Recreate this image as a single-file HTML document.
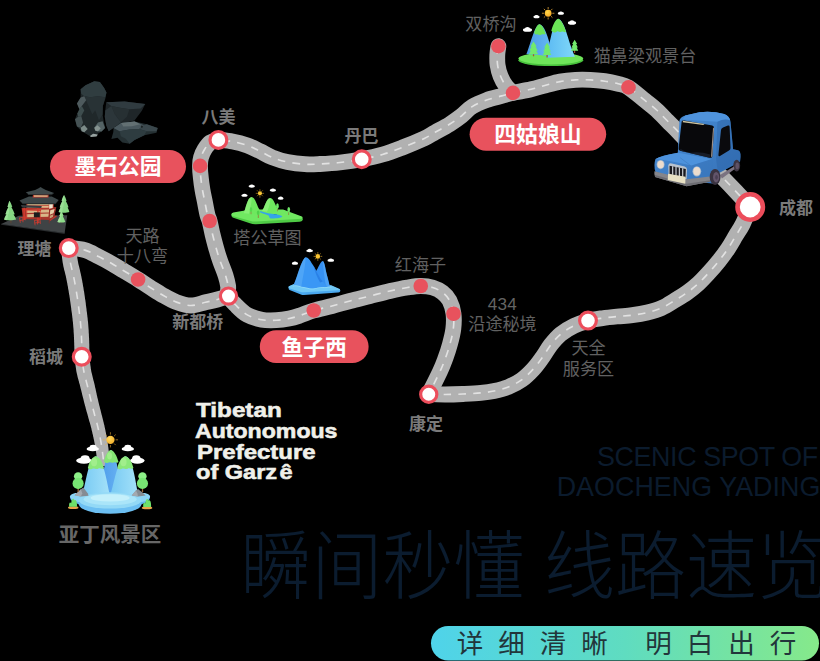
<!DOCTYPE html>
<html lang="zh"><head><meta charset="utf-8"><title>线路速览</title>
<style>
html,body{margin:0;padding:0;background:#000;}
body{width:820px;height:661px;overflow:hidden;position:relative;font-family:"Liberation Sans",sans-serif;}
#map{position:absolute;left:0;top:0;display:block;}
#map text{font-family:"Liberation Sans","Noto Sans CJK SC",sans-serif;}
.t{position:absolute;white-space:nowrap;font-family:"Liberation Sans",sans-serif;}
.en{left:196px;color:#f0f0ea;font-weight:bold;font-size:19.8px;line-height:22px;transform-origin:0 0;-webkit-text-stroke:0.55px #f0f0ea;}
.e1{top:398.6px;transform:scaleX(1.225);}
.e2{top:419.6px;transform:scaleX(1.168);left:195.4px;}
.e3{top:440.5px;transform:scaleX(1.212);left:196.6px;}
.e4{top:461px;transform:scaleX(1.19);}
.e4 i{font-style:normal;margin-left:2px;}
.sc{right:2.2px;top:442.8px;color:#0b1b2d;font-size:26.9px;line-height:29.8px;text-align:right;letter-spacing:-0.42px;}
.sc b{font-weight:normal;letter-spacing:0.02px;position:relative;left:2.6px;}
.n434{left:487.8px;top:295.1px;color:#646464;font-size:17.1px;letter-spacing:0.25px;}
</style></head><body>
<svg id="map" width="820" height="661" viewBox="0 0 820 661">
<defs><linearGradient id="barg" x1="0" x2="1" y1="0" y2="0"><stop offset="0" stop-color="#4fd3ea"/><stop offset="0.5" stop-color="#5fdcc0"/><stop offset="1" stop-color="#86e98a"/></linearGradient></defs>
<rect width="820" height="661" fill="#000"/>
<g id="bgtext">
<text transform="translate(240.40 592.80) scale(1 1.060)" x="0" y="0" font-size="71" font-weight="300" fill="#0b1c2f">瞬间秒懂 线路速览</text>
</g>
<path d="M61.1 248.8L61.2 249.4L61.3 250.2L61.4 251.2L61.5 252.3L61.6 253.5L61.7 254.8L61.9 256.2L62.0 257.6L62.2 259.0L62.4 260.5L62.6 261.9L62.8 263.3L63.1 264.6L63.3 266.0L63.6 267.3L63.9 268.6L64.2 269.9L64.6 271.2L64.9 272.4L65.2 273.7L65.5 274.9L65.8 276.1L66.0 277.3L66.3 278.5L66.5 279.8L66.8 281.1L67.0 282.3L67.3 283.6L67.5 284.9L67.8 286.2L68.0 287.5L68.2 288.9L68.5 290.2L68.7 291.5L68.9 292.9L69.1 294.2L69.4 295.6L69.6 296.9L69.8 298.3L70.0 299.8L70.2 301.2L70.4 302.6L70.6 304.0L70.8 305.5L71.0 306.9L71.2 308.3L71.3 309.6L71.5 311.0L71.7 312.3L71.9 313.6L72.0 314.8L72.2 316.1L72.3 317.3L72.5 318.5L72.6 319.7L72.7 320.9L72.9 322.1L73.0 323.3L73.1 324.4L73.2 325.7L73.3 326.9L73.4 328.1L73.5 329.2L73.6 330.4L73.6 331.6L73.7 332.8L73.8 334.0L73.9 335.2L73.9 336.5L74.0 337.7L74.0 339.0L74.1 340.3L74.1 341.7L74.2 343.1L74.2 344.7L74.3 346.3L74.3 348.0L74.4 349.6L74.4 351.2L74.4 352.7L74.4 354.0L74.5 355.3L74.5 356.3L74.5 357.2L89.5 356.8L89.5 356.0L89.5 355.0L89.4 353.8L89.4 352.4L89.4 350.9L89.4 349.3L89.3 347.6L89.3 346.0L89.3 344.3L89.2 342.7L89.2 341.1L89.1 339.7L89.1 338.4L89.0 337.0L88.9 335.7L88.9 334.5L88.8 333.2L88.7 331.9L88.7 330.7L88.6 329.4L88.5 328.2L88.4 326.9L88.3 325.6L88.2 324.3L88.1 323.1L88.0 321.8L87.8 320.5L87.7 319.3L87.6 318.0L87.4 316.8L87.3 315.5L87.1 314.2L87.0 313.0L86.8 311.7L86.6 310.4L86.5 309.0L86.3 307.7L86.1 306.3L85.9 304.9L85.8 303.4L85.6 302.0L85.4 300.5L85.1 299.0L84.9 297.6L84.7 296.1L84.5 294.7L84.3 293.2L84.1 291.8L83.8 290.4L83.6 289.0L83.4 287.6L83.1 286.3L82.9 284.9L82.7 283.5L82.4 282.2L82.2 280.8L81.9 279.5L81.6 278.1L81.4 276.8L81.1 275.5L80.8 274.1L80.5 272.7L80.2 271.4L79.9 270.1L79.6 268.8L79.3 267.6L79.0 266.3L78.7 265.2L78.4 264.0L78.2 262.9L78.0 261.8L77.8 260.7L77.6 259.6L77.4 258.4L77.3 257.2L77.1 255.9L77.0 254.6L76.8 253.3L76.7 252.1L76.6 250.9L76.5 249.8L76.4 248.8L76.3 247.9L76.3 247.2Z" fill="#b1b1b1"/>
<path d="M74.6 357.9L74.6 358.5L74.7 359.3L74.9 360.3L75.0 361.4L75.1 362.6L75.3 363.9L75.5 365.3L75.7 366.7L75.9 368.1L76.1 369.6L76.3 371.0L76.6 372.4L76.9 373.7L77.2 375.1L77.5 376.4L77.8 377.7L78.2 379.0L78.5 380.3L78.9 381.6L79.2 382.9L79.6 384.1L79.9 385.3L80.2 386.5L80.5 387.7L80.8 388.9L81.1 390.0L81.4 391.2L81.7 392.4L82.0 393.5L82.2 394.7L82.5 395.8L82.8 397.0L83.1 398.1L83.4 399.3L83.7 400.5L84.0 401.7L84.3 402.9L84.6 404.1L84.9 405.3L85.3 406.5L85.6 407.7L85.9 408.9L86.2 410.0L86.5 411.2L86.9 412.4L87.2 413.5L87.5 414.6L87.8 415.7L88.1 416.8L88.4 417.9L88.7 418.9L89.0 419.9L89.2 420.9L89.5 421.8L89.8 422.7L90.1 423.7L90.3 424.6L90.6 425.6L90.8 426.5L91.1 427.6L91.4 428.6L91.6 429.7L91.9 430.9L92.2 432.0L92.4 433.2L92.7 434.3L93.0 435.5L93.2 436.7L93.5 437.8L93.7 439.0L94.0 440.1L94.2 441.2L94.4 442.3L94.6 443.3L94.8 444.4L95.0 445.4L95.2 446.5L95.3 447.5L95.5 448.6L95.7 449.6L95.8 450.7L96.0 451.7L96.1 452.8L96.3 453.8L96.4 454.9L96.6 456.0L96.7 457.3L96.9 458.5L97.0 459.7L97.2 461.0L97.3 462.1L97.4 463.3L97.6 464.3L97.7 465.2L97.8 466.0L97.8 466.6L110.2 465.4L110.1 464.7L110.1 464.0L110.0 463.0L109.9 462.0L109.8 460.9L109.7 459.7L109.6 458.4L109.4 457.1L109.3 455.9L109.2 454.6L109.0 453.4L108.9 452.2L108.8 451.1L108.6 450.0L108.5 448.9L108.4 447.8L108.2 446.7L108.1 445.6L107.9 444.5L107.8 443.4L107.6 442.3L107.4 441.1L107.2 440.0L107.0 438.8L106.8 437.6L106.6 436.4L106.4 435.2L106.1 434.0L105.9 432.8L105.6 431.5L105.4 430.3L105.1 429.1L104.9 427.9L104.6 426.7L104.4 425.6L104.1 424.4L103.8 423.3L103.6 422.2L103.3 421.2L103.1 420.2L102.8 419.2L102.6 418.2L102.3 417.2L102.1 416.3L101.8 415.3L101.5 414.3L101.3 413.3L101.0 412.3L100.8 411.2L100.5 410.0L100.2 408.9L99.9 407.7L99.6 406.6L99.3 405.4L99.0 404.2L98.7 403.0L98.4 401.8L98.2 400.7L97.9 399.5L97.6 398.3L97.3 397.2L97.1 396.0L96.8 394.9L96.6 393.8L96.3 392.6L96.1 391.5L95.8 390.3L95.6 389.1L95.3 387.9L95.0 386.8L94.8 385.5L94.5 384.3L94.2 383.0L93.9 381.7L93.5 380.5L93.2 379.2L92.9 377.9L92.6 376.7L92.3 375.4L92.0 374.2L91.7 373.0L91.4 371.9L91.2 370.7L91.0 369.6L90.8 368.5L90.7 367.3L90.5 366.1L90.3 364.8L90.2 363.5L90.0 362.2L89.9 361.0L89.8 359.8L89.7 358.7L89.6 357.7L89.5 356.8L89.4 356.1Z" fill="#b1b1b1"/>
<path d="M68.7 248.0C69.0 250.3 69.5 257.2 70.3 262.0C71.1 266.8 72.7 271.8 73.7 277.0C74.8 282.2 75.7 287.5 76.6 293.0C77.5 298.5 78.3 304.7 79.0 310.0C79.7 315.3 80.3 320.0 80.7 325.0C81.1 330.0 81.4 334.7 81.6 340.0C81.8 345.3 81.6 351.8 82.0 357.0C82.4 362.2 82.9 366.2 83.8 371.0C84.7 375.8 86.3 381.2 87.5 386.0C88.7 390.8 89.6 395.3 90.8 400.0C92.0 404.7 93.3 409.7 94.4 414.0C95.5 418.3 96.6 421.7 97.6 426.0C98.6 430.3 99.8 435.5 100.6 440.0C101.4 444.5 102.0 448.7 102.6 453.0C103.2 457.3 103.8 463.8 104.0 466.0" fill="none" stroke="#e2e2e2" stroke-width="1.55" stroke-dasharray="7.6 7.2"/>
<g id="roads" fill="none" stroke-linecap="round" stroke-linejoin="round">
<path d="M68.7 248.0C71.4 248.3 79.9 248.7 84.9 250.1C89.9 251.5 94.1 254.3 98.5 256.5C102.9 258.7 107.0 260.9 111.3 263.3C115.6 265.7 119.6 268.3 124.1 271.0C128.6 273.7 133.8 276.8 138.1 279.5C142.4 282.2 145.7 284.6 149.8 287.2C154.0 289.8 158.6 292.8 163.0 295.3C167.4 297.8 171.8 300.4 176.5 302.1C181.2 303.8 186.2 305.5 191.0 305.5C195.8 305.5 201.1 303.3 205.5 302.3C209.9 301.3 213.6 300.5 217.4 299.5C221.2 298.5 226.7 296.7 228.5 296.1" stroke="#b1b1b1" stroke-width="15.8"/>
<path d="M218.4 139.9C217.1 140.3 212.8 140.7 210.5 142.3C208.2 143.9 206.1 147.0 204.5 149.5C202.9 152.0 201.8 154.8 201.0 157.5C200.2 160.2 200.0 162.7 200.0 166.0C200.0 169.3 200.3 173.5 200.8 177.5C201.2 181.5 201.8 185.8 202.5 190.0C203.2 194.2 204.2 198.3 205.0 202.5C205.8 206.7 206.7 211.9 207.5 215.0C208.3 218.1 208.7 217.7 209.6 221.0C210.5 224.3 211.5 230.2 212.7 235.0C213.9 239.8 215.4 245.7 216.7 250.0C217.9 254.3 218.7 256.8 220.2 261.1C221.7 265.4 224.3 271.5 225.6 275.6C226.9 279.8 227.6 282.6 228.1 286.0C228.6 289.4 227.2 292.9 228.5 296.1C229.8 299.4 233.1 302.4 236.2 305.5C239.3 308.6 243.0 312.5 247.3 314.9C251.6 317.3 257.0 318.8 261.8 319.7C266.6 320.6 271.7 320.4 276.3 320.2C280.9 320.0 285.2 319.3 289.2 318.5C293.1 317.7 295.9 316.8 300.0 315.5C304.1 314.2 308.4 312.1 313.8 310.5C319.1 308.9 326.0 307.6 332.0 306.0C338.0 304.4 343.7 302.7 350.0 301.0C356.3 299.3 363.3 297.7 370.0 296.0C376.7 294.3 383.8 292.4 390.0 291.0C396.2 289.6 402.4 288.3 407.5 287.5C412.6 286.7 416.6 286.0 420.8 286.0C424.9 286.0 428.9 286.4 432.5 287.5C436.1 288.6 439.7 290.3 442.5 292.5C445.3 294.7 447.7 297.0 449.5 300.5C451.3 304.0 452.9 309.0 453.5 313.8C454.1 318.5 453.9 324.0 453.3 329.0C452.7 334.0 451.3 339.2 450.0 344.0C448.7 348.8 447.2 353.4 445.5 358.0C443.8 362.6 442.8 365.5 440.0 371.5C437.2 377.5 430.6 390.5 428.8 394.2" stroke="#b1b1b1" stroke-width="15.8"/>
<path d="M428.8 394.2C431.5 394.3 439.3 394.5 445.0 394.5C450.7 394.5 457.0 394.3 463.0 394.0C469.0 393.7 475.6 393.4 480.8 392.9C486.0 392.4 489.5 392.0 494.1 391.0C498.7 390.0 503.7 388.9 508.3 387.0C512.9 385.1 517.4 382.9 521.6 379.9C525.8 376.9 529.8 372.9 533.3 369.1C536.8 365.4 539.5 361.4 542.4 357.4C545.3 353.4 547.7 348.8 550.7 344.9C553.8 341.0 556.8 337.3 560.7 334.1C564.6 330.9 569.4 328.0 574.0 325.8C578.6 323.6 583.5 322.1 588.2 320.8C592.9 319.5 597.6 318.9 602.4 318.2C607.2 317.5 612.0 317.0 617.0 316.5C622.0 316.0 627.2 315.9 632.3 315.2C637.3 314.5 642.4 313.7 647.3 312.5C652.2 311.3 656.9 310.1 661.6 308.0C666.3 305.9 671.1 302.6 675.4 300.0C679.7 297.4 683.8 294.9 687.6 292.2C691.4 289.5 694.7 286.9 698.3 283.6C701.9 280.3 705.6 276.2 709.1 272.4C712.6 268.6 715.9 264.7 719.1 260.7C722.3 256.7 725.4 252.5 728.2 248.3C731.0 244.2 733.3 239.8 735.7 235.8C738.1 231.8 740.3 228.9 742.7 224.1C745.1 219.3 748.8 209.7 750.0 206.8" stroke="#b1b1b1" stroke-width="15.8"/>
<path d="M750.3 207.0C747.8 204.2 739.6 195.4 735.0 190.5C730.4 185.6 728.3 183.4 722.5 177.5C716.7 171.6 707.2 162.5 700.0 155.0C692.8 147.5 684.4 138.2 679.0 132.5C673.6 126.8 671.2 124.8 667.5 121.0C663.8 117.2 660.4 113.5 656.6 110.0C652.8 106.5 649.3 104.0 644.6 100.2C639.9 96.4 632.9 90.1 628.5 87.4C624.1 84.7 622.1 84.8 618.2 83.8C614.3 82.8 609.5 81.8 604.9 81.2C600.2 80.6 595.2 80.1 590.3 79.9C585.4 79.7 580.5 79.6 575.5 79.9C570.5 80.2 565.1 80.7 560.1 81.6C555.1 82.5 550.4 84.0 545.6 85.3C540.8 86.6 536.5 88.0 531.1 89.3C525.7 90.6 517.9 91.8 513.0 92.9C508.1 94.0 506.1 94.7 501.7 95.9C497.3 97.1 491.5 98.3 486.6 100.1C481.7 101.9 476.4 104.0 472.2 106.6C468.0 109.2 465.4 112.8 461.6 115.8C457.8 118.8 453.9 121.5 449.5 124.3C445.1 127.0 439.4 129.9 435.1 132.3C430.8 134.7 429.2 136.2 423.8 138.7C418.4 141.2 409.4 144.9 402.5 147.5C395.6 150.1 389.3 152.5 382.5 154.5C375.7 156.5 368.8 157.9 361.8 159.2C354.7 160.6 347.0 161.7 340.0 162.5C333.0 163.3 325.8 163.7 320.0 164.0C314.2 164.3 310.4 164.6 305.0 164.2C299.6 163.9 292.9 163.1 287.5 162.0C282.1 160.9 277.1 159.3 272.5 157.5C267.9 155.7 264.2 153.2 260.0 151.2C255.8 149.2 252.1 147.1 247.5 145.5C242.9 143.9 237.3 142.4 232.5 141.5C227.7 140.6 220.8 140.2 218.4 139.9" stroke="#b1b1b1" stroke-width="15.8"/>
<path d="M498.4 46.2C498.2 47.7 497.4 51.9 497.3 55.0C497.2 58.1 497.1 61.5 497.6 65.0C498.1 68.5 499.1 72.5 500.5 76.0C501.9 79.5 503.9 83.2 506.0 86.0C508.1 88.8 511.8 91.8 513.0 92.9" stroke="#b1b1b1" stroke-width="15.8"/>
<path d="M68.7 248.0C71.4 248.3 79.9 248.7 84.9 250.1C89.9 251.5 94.1 254.3 98.5 256.5C102.9 258.7 107.0 260.9 111.3 263.3C115.6 265.7 119.6 268.3 124.1 271.0C128.6 273.7 133.8 276.8 138.1 279.5C142.4 282.2 145.7 284.6 149.8 287.2C154.0 289.8 158.6 292.8 163.0 295.3C167.4 297.8 171.8 300.4 176.5 302.1C181.2 303.8 186.2 305.5 191.0 305.5C195.8 305.5 201.1 303.3 205.5 302.3C209.9 301.3 213.6 300.5 217.4 299.5C221.2 298.5 226.7 296.7 228.5 296.1" stroke="#e2e2e2" stroke-width="1.65" stroke-dasharray="7.6 7.2" stroke-linecap="butt"/>
<path d="M218.4 139.9C217.1 140.3 212.8 140.7 210.5 142.3C208.2 143.9 206.1 147.0 204.5 149.5C202.9 152.0 201.8 154.8 201.0 157.5C200.2 160.2 200.0 162.7 200.0 166.0C200.0 169.3 200.3 173.5 200.8 177.5C201.2 181.5 201.8 185.8 202.5 190.0C203.2 194.2 204.2 198.3 205.0 202.5C205.8 206.7 206.7 211.9 207.5 215.0C208.3 218.1 208.7 217.7 209.6 221.0C210.5 224.3 211.5 230.2 212.7 235.0C213.9 239.8 215.4 245.7 216.7 250.0C217.9 254.3 218.7 256.8 220.2 261.1C221.7 265.4 224.3 271.5 225.6 275.6C226.9 279.8 227.6 282.6 228.1 286.0C228.6 289.4 227.2 292.9 228.5 296.1C229.8 299.4 233.1 302.4 236.2 305.5C239.3 308.6 243.0 312.5 247.3 314.9C251.6 317.3 257.0 318.8 261.8 319.7C266.6 320.6 271.7 320.4 276.3 320.2C280.9 320.0 285.2 319.3 289.2 318.5C293.1 317.7 295.9 316.8 300.0 315.5C304.1 314.2 308.4 312.1 313.8 310.5C319.1 308.9 326.0 307.6 332.0 306.0C338.0 304.4 343.7 302.7 350.0 301.0C356.3 299.3 363.3 297.7 370.0 296.0C376.7 294.3 383.8 292.4 390.0 291.0C396.2 289.6 402.4 288.3 407.5 287.5C412.6 286.7 416.6 286.0 420.8 286.0C424.9 286.0 428.9 286.4 432.5 287.5C436.1 288.6 439.7 290.3 442.5 292.5C445.3 294.7 447.7 297.0 449.5 300.5C451.3 304.0 452.9 309.0 453.5 313.8C454.1 318.5 453.9 324.0 453.3 329.0C452.7 334.0 451.3 339.2 450.0 344.0C448.7 348.8 447.2 353.4 445.5 358.0C443.8 362.6 442.8 365.5 440.0 371.5C437.2 377.5 430.6 390.5 428.8 394.2" stroke="#e2e2e2" stroke-width="1.65" stroke-dasharray="7.6 7.2" stroke-linecap="butt"/>
<path d="M428.8 394.2C431.5 394.3 439.3 394.5 445.0 394.5C450.7 394.5 457.0 394.3 463.0 394.0C469.0 393.7 475.6 393.4 480.8 392.9C486.0 392.4 489.5 392.0 494.1 391.0C498.7 390.0 503.7 388.9 508.3 387.0C512.9 385.1 517.4 382.9 521.6 379.9C525.8 376.9 529.8 372.9 533.3 369.1C536.8 365.4 539.5 361.4 542.4 357.4C545.3 353.4 547.7 348.8 550.7 344.9C553.8 341.0 556.8 337.3 560.7 334.1C564.6 330.9 569.4 328.0 574.0 325.8C578.6 323.6 583.5 322.1 588.2 320.8C592.9 319.5 597.6 318.9 602.4 318.2C607.2 317.5 612.0 317.0 617.0 316.5C622.0 316.0 627.2 315.9 632.3 315.2C637.3 314.5 642.4 313.7 647.3 312.5C652.2 311.3 656.9 310.1 661.6 308.0C666.3 305.9 671.1 302.6 675.4 300.0C679.7 297.4 683.8 294.9 687.6 292.2C691.4 289.5 694.7 286.9 698.3 283.6C701.9 280.3 705.6 276.2 709.1 272.4C712.6 268.6 715.9 264.7 719.1 260.7C722.3 256.7 725.4 252.5 728.2 248.3C731.0 244.2 733.3 239.8 735.7 235.8C738.1 231.8 740.3 228.9 742.7 224.1C745.1 219.3 748.8 209.7 750.0 206.8" stroke="#e2e2e2" stroke-width="1.65" stroke-dasharray="7.6 7.2" stroke-linecap="butt"/>
<path d="M750.3 207.0C747.8 204.2 739.6 195.4 735.0 190.5C730.4 185.6 728.3 183.4 722.5 177.5C716.7 171.6 707.2 162.5 700.0 155.0C692.8 147.5 684.4 138.2 679.0 132.5C673.6 126.8 671.2 124.8 667.5 121.0C663.8 117.2 660.4 113.5 656.6 110.0C652.8 106.5 649.3 104.0 644.6 100.2C639.9 96.4 632.9 90.1 628.5 87.4C624.1 84.7 622.1 84.8 618.2 83.8C614.3 82.8 609.5 81.8 604.9 81.2C600.2 80.6 595.2 80.1 590.3 79.9C585.4 79.7 580.5 79.6 575.5 79.9C570.5 80.2 565.1 80.7 560.1 81.6C555.1 82.5 550.4 84.0 545.6 85.3C540.8 86.6 536.5 88.0 531.1 89.3C525.7 90.6 517.9 91.8 513.0 92.9C508.1 94.0 506.1 94.7 501.7 95.9C497.3 97.1 491.5 98.3 486.6 100.1C481.7 101.9 476.4 104.0 472.2 106.6C468.0 109.2 465.4 112.8 461.6 115.8C457.8 118.8 453.9 121.5 449.5 124.3C445.1 127.0 439.4 129.9 435.1 132.3C430.8 134.7 429.2 136.2 423.8 138.7C418.4 141.2 409.4 144.9 402.5 147.5C395.6 150.1 389.3 152.5 382.5 154.5C375.7 156.5 368.8 157.9 361.8 159.2C354.7 160.6 347.0 161.7 340.0 162.5C333.0 163.3 325.8 163.7 320.0 164.0C314.2 164.3 310.4 164.6 305.0 164.2C299.6 163.9 292.9 163.1 287.5 162.0C282.1 160.9 277.1 159.3 272.5 157.5C267.9 155.7 264.2 153.2 260.0 151.2C255.8 149.2 252.1 147.1 247.5 145.5C242.9 143.9 237.3 142.4 232.5 141.5C227.7 140.6 220.8 140.2 218.4 139.9" stroke="#e2e2e2" stroke-width="1.65" stroke-dasharray="7.6 7.2" stroke-linecap="butt"/>
<path d="M498.4 46.2C498.2 47.7 497.4 51.9 497.3 55.0C497.2 58.1 497.1 61.5 497.6 65.0C498.1 68.5 499.1 72.5 500.5 76.0C501.9 79.5 503.9 83.2 506.0 86.0C508.1 88.8 511.8 91.8 513.0 92.9" stroke="#e2e2e2" stroke-width="1.65" stroke-dasharray="7.6 7.2" stroke-linecap="butt"/>
</g>
<g id="dots" fill="#e8525d">
<circle cx="138.10" cy="279.50" r="7.3"/>
<circle cx="200.10" cy="165.90" r="7.3"/>
<circle cx="209.60" cy="221.00" r="7.3"/>
<circle cx="313.75" cy="310.50" r="7.3"/>
<circle cx="420.75" cy="286.00" r="7.3"/>
<circle cx="453.50" cy="313.75" r="7.3"/>
<circle cx="498.40" cy="46.20" r="7.3"/>
<circle cx="513.00" cy="92.90" r="7.3"/>
<circle cx="628.50" cy="87.40" r="7.3"/>
</g>
<g id="nodes" fill="#fff" stroke="#ec4d5b">
<circle cx="68.75" cy="248.10" r="8.40" stroke-width="3.2"/>
<circle cx="218.40" cy="139.90" r="8.40" stroke-width="3.2"/>
<circle cx="228.50" cy="296.10" r="8.10" stroke-width="3.2"/>
<circle cx="361.75" cy="159.25" r="8.40" stroke-width="3.2"/>
<circle cx="428.75" cy="394.25" r="8.10" stroke-width="3.2"/>
<circle cx="588.00" cy="320.60" r="8.40" stroke-width="3.2"/>
<circle cx="81.75" cy="356.75" r="8.40" stroke-width="3.2"/>
<circle cx="750.20" cy="207.00" r="12.70" stroke-width="4.6"/>
</g>
<g id="rocks" transform="translate(66 74) scale(0.12195)">
<!-- tall rock -->
<path fill="#20282a" d="M120 125L160 92L232 60L278 66L312 112L332 152L322 205L302 262L300 332L312 402L322 442L292 472L250 496L200 512L168 492L128 470L90 430L74 372L94 322L110 290L90 242L120 192Z"/>
<path fill="#303d40" d="M120 125L160 92L232 60L278 66L312 112L332 152L322 190L262 182L200 190L150 182L124 160Z"/>
<path fill="#283235" d="M150 182L200 190L262 182L322 190L302 262L300 332L270 380L240 300L215 330L180 250Z"/>
<path fill="#4e5a5d" d="M90 242L120 192L150 182L165 215L130 262L110 290Z"/>
<path fill="#3e4d4e" d="M94 322L110 290L130 262L150 300L125 345L100 350Z"/>
<path fill="#455254" d="M74 372L100 350L125 345L140 400L120 440L90 430Z"/>
<path fill="#7c8b88" d="M120 440L150 418L178 452L150 478L128 470Z"/>
<path fill="#546365" d="M232 440L262 398L300 388L320 442L292 472L250 470Z"/>
<path fill="#869390" d="M232 440L258 420L285 445L262 470L240 466Z"/>
<path fill="#98a3a1" d="M196 508L222 490L262 496L250 512L205 516Z"/>
<!-- middle slab -->
<path fill="#1f2629" d="M330 232L480 226L650 246L622 302L562 382L482 402L420 420L350 470L330 420L318 350L322 300Z"/>
<path fill="#303b40" d="M330 232L480 226L650 246L612 282L520 290L440 276L372 262Z"/>
<path fill="#273033" d="M372 262L440 276L520 290L500 350L450 395L400 330Z"/>
<path fill="#2c363a" d="M322 300L372 262L400 330L450 395L420 420L350 470L330 420L318 350Z"/>
<!-- front rock -->
<path fill="#242f32" d="M390 442L452 402L562 390L662 412L752 442L742 482L642 502L562 542L522 572L462 562L422 522L372 532L388 476Z"/>
<path fill="#4a585e" d="M390 442L452 402L562 390L640 420L600 450L520 455L440 470Z"/>
<path fill="#3a474c" d="M640 420L662 412L752 442L742 470L660 470L600 450Z"/>
<path fill="#637073" d="M452 402L562 390L610 412L540 428L470 430Z"/>
<circle cx="622" cy="432" r="9" fill="#1c2324"/>
<path fill="#2e3c40" d="M440 470L520 455L600 450L660 470L642 502L562 542L522 572L490 530L450 510Z"/>
</g>

<g id="temple" transform="translate(0 182) scale(0.0878)">
<!-- base -->
<path fill="#26292b" d="M12 486L735 592L740 578L14 476Z"/>
<path fill="#3f4345" d="M14 478L215 384L766 380L736 580Z"/>
<!-- left tree -->
<path fill="#5a4636" d="M118 425h12v45h-12z"/>
<path fill="#86d683" d="M108 213C120 232 132 258 140 282L130 284C146 312 160 340 168 368L154 370C168 390 178 408 184 428C150 440 80 440 46 426C52 404 62 386 74 368L62 366C70 338 82 312 96 286L86 284C92 258 100 232 108 213Z"/>
<path fill="#a9e6a2" d="M108 213C112 240 112 262 108 284L100 286C106 315 104 340 98 368L88 368C92 392 88 412 80 432C66 432 54 430 46 426C52 404 62 386 74 368L62 366C70 338 82 312 96 286L86 284C92 258 100 232 108 213Z" opacity=".6"/>
<!-- right trees -->
<path fill="#86d683" d="M730 148C742 168 752 192 758 214L750 216C764 240 774 264 780 288L770 290C780 308 786 324 790 342C760 354 700 354 668 342C672 322 680 306 690 290L680 288C688 262 698 240 710 216L702 214C708 190 718 166 730 148Z"/>
<path fill="#a9e6a2" d="M730 148C734 172 734 194 730 216L722 216C728 242 726 266 720 290L712 290C716 310 712 330 706 350C690 350 676 346 668 342C672 322 680 306 690 290L680 288C688 262 698 240 710 216L702 214C708 190 718 166 730 148Z" opacity=".6"/>
<path fill="#5a4636" d="M694 440h10v28h-10z"/>
<path fill="#8ddc89" d="M700 328C710 348 718 368 724 388L716 390C728 412 738 434 744 456C720 464 676 464 654 456C660 434 670 412 684 390L676 388C682 368 690 348 700 328Z"/>
<path fill="#b0eaa8" d="M700 328C703 350 702 370 698 390L690 390C694 414 690 438 684 460C672 460 662 458 654 456C660 434 670 412 684 390L676 388C682 368 690 348 700 328Z" opacity=".6"/>
<!-- lower body -->
<path fill="#a8342b" d="M246 296L640 288L616 402L560 432L262 420Z"/>
<path fill="#d8b688" d="M300 320L560 314L558 346L300 352Z"/>
<path fill="#d8b688" d="M302 366L556 360L550 396L304 402Z"/>
<path fill="#962c25" d="M560 302L640 286L616 402L562 432Z"/>
<path fill="#e5cda6" d="M572 322L622 308L610 356L568 372Z"/>
<path fill="#c9a377" d="M568 384L608 368L602 398L566 416Z"/>
<!-- second storey -->
<path fill="#c23b30" d="M300 238L614 238L610 300L300 302Z"/>
<path fill="#dcbc8c" d="M312 250L556 248L554 292L312 294Z"/>
<path fill="#b8382e" d="M312 268L556 266L556 274L312 276Z"/>
<path fill="#f0e4cc" d="M560 248L602 244L600 296L560 304Z"/>
<!-- middle roof -->
<path fill="#3c4648" d="M222 212L330 166L590 166L668 206L640 240L252 240Z"/>
<path fill="#2a3032" d="M222 212L252 240L640 240L668 206L656 226L632 252L258 252Z"/>
<!-- upper walls -->
<path fill="#c23b30" d="M376 136L556 136L552 176L372 176Z"/>
<path fill="#dcbc8c" d="M388 150L544 150L542 168L386 168Z"/>
<!-- top roof -->
<path fill="#3f494b" d="M294 118L400 92L440 72L462 56L484 72L522 92L616 124L590 140L320 138Z"/>
<path fill="#2a3032" d="M294 118L320 138L590 140L616 124L606 136L584 150L324 148Z"/>
<!-- gate -->
<path fill="#373c3f" d="M238 262L476 274L470 296L250 290Z"/>
<path fill="#d23a2e" d="M268 292h16v140h-16zM424 298h16v172h-16zM300 296h10v118h-10zM452 300h10v130h-10z"/>
<path fill="#d23a2e" d="M256 310L468 318L468 330L256 322Z"/>
<path fill="#1a1c1d" d="M386 346h68v56h-68z"/>
<g stroke="#cf3a2e" stroke-width="9" fill="none"><path d="M218 410L294 396M224 440L280 428M222 408L232 464M258 402L262 458M292 396L292 436M388 440L456 428M394 468L458 456M392 440L400 494M424 434L428 484M456 428L460 478"/></g>
<path fill="#b8382e" d="M562 432L640 380L648 394L568 448Z"/>
<path fill="#8a2a24" d="M556 430h8v40h-8z"/>
</g>

<g id="grass" transform="translate(225 178) scale(0.10366)">
<!-- platform -->
<path fill="#4fcb45" d="M62 362Q58 345 80 340L250 312L560 312L742 380Q756 388 748 408Q742 420 720 422L300 446Q270 448 240 436L80 384Q64 378 62 362Z"/>
<path fill="#70e861" d="M62 352Q60 338 80 332L250 304L560 304L742 372Q756 380 740 392L300 420Q270 422 240 412L80 370Q64 366 62 352Z"/>
<!-- hills -->
<path fill="#6ee85e" d="M180 340C200 300 215 188 256 184C298 188 310 290 345 322L300 350Z"/>
<path fill="#98f486" d="M180 340C200 300 215 188 256 184C262 230 240 300 232 345Z" opacity=".6"/>
<path fill="#6ee85e" d="M355 318C385 290 395 196 436 194C478 198 488 290 520 315L440 335Z"/>
<path fill="#98f486" d="M355 318C385 290 395 196 436 194C440 240 420 300 405 325Z" opacity=".6"/>
<path fill="#70e861" d="M520 315C560 300 590 318 620 345L540 350Z"/>
<!-- river -->
<path fill="#36a4ea" d="M338 318C370 330 400 338 450 345C500 350 545 358 552 372C548 386 480 392 440 390C420 384 430 372 420 362C400 352 360 345 338 330Z"/>
<path fill="#2385c9" d="M470 348h30v6h-30z"/>
<!-- trees -->
<path fill="#9a6a3a" d="M317 350h7v36h-7zM503 290h6v30h-6zM612 325h6v32h-6zM248 320h6v30h-6z"/>
<ellipse cx="320" cy="335" rx="13" ry="22" fill="#4ed24a"/>
<ellipse cx="506" cy="272" rx="13" ry="28" fill="#6fe868"/>
<ellipse cx="615" cy="305" rx="13" ry="26" fill="#6fe868"/>
<ellipse cx="251" cy="305" rx="12" ry="24" fill="#55d94e"/>
<!-- sun -->
<g stroke="#f5b82e" stroke-width="5" stroke-linecap="round"><path d="M337 112v10M337 176v10M301 148h10M363 148h10M312 122l7 7M355 166l7 7M362 122l-7 7M319 166l-7 7"/></g>
<circle cx="337" cy="148" r="20" fill="#f8c534"/>
<!-- clouds -->
<g fill="#fff"><ellipse cx="258" cy="80" rx="30" ry="13"/><ellipse cx="258" cy="73" rx="17" ry="11"/>
<ellipse cx="462" cy="119" rx="30" ry="13"/><ellipse cx="462" cy="112" rx="17" ry="11"/>
<ellipse cx="188" cy="169" rx="30" ry="13"/><ellipse cx="188" cy="162" rx="17" ry="11"/>
<ellipse cx="537" cy="197" rx="28" ry="13"/><ellipse cx="537" cy="190" rx="16" ry="11"/></g>
</g>

<g id="bluemtn" transform="translate(280 244) scale(0.08537)">
<!-- platform -->
<path fill="#4aa8ee" d="M100 512Q96 502 110 496L170 470L600 488L700 532Q712 540 704 556Q700 566 680 568L280 598Q262 600 245 592L112 540Q100 534 100 512Z"/>
<path fill="#70c8f6" d="M100 506Q98 498 110 492L170 466L600 484L700 528Q710 536 694 542L280 566Q262 568 245 562L112 520Q100 516 100 506Z"/>
<!-- back peak -->
<path fill="#3590f2" d="M420 320C450 280 470 205 500 198C525 205 528 290 560 400L585 500L440 510Z"/>
<path fill="#5eb0f9" d="M500 198C525 205 528 290 560 400L585 500L540 505C520 400 510 300 500 198Z" opacity=".55"/>
<!-- main peak -->
<path fill="#3a97f5" d="M160 480C200 400 250 180 300 156C345 160 360 215 392 255C420 300 450 380 500 440L560 505L330 525Z"/>
<path fill="#62b4fa" d="M160 480C200 400 250 180 300 156C300 250 270 380 250 500Z" opacity=".5"/>
<path fill="#1d6fdc" d="M392 255C420 300 450 380 500 440L470 450C440 400 410 330 392 255Z" opacity=".55"/>
<!-- foam base -->
<path fill="#8ad6fa" d="M150 490C200 470 230 500 280 505C330 512 360 530 400 522C440 512 470 500 510 505C550 510 580 490 600 500L610 520L300 545L150 510Z"/>
<path fill="#70c8f6" d="M150 500C200 482 230 510 280 515C330 522 360 540 400 532C440 522 470 510 510 515C550 520 580 500 610 512L660 530L290 560L130 515Z"/>
<!-- sun -->
<g stroke="#f5b82e" stroke-width="7" stroke-linecap="round"><path d="M443 100v10M443 182v10M398 145h10M480 145h10M412 114l7 7M468 170l7 7M474 114l-7 7M418 170l-7 7"/></g>
<circle cx="443" cy="145" r="27" fill="#f8c230"/>
<!-- clouds -->
<g fill="#fff"><ellipse cx="347" cy="80" rx="38" ry="17"/><ellipse cx="347" cy="72" rx="20" ry="15"/>
<ellipse cx="175" cy="227" rx="36" ry="17"/><ellipse cx="175" cy="219" rx="20" ry="15"/>
<ellipse cx="595" cy="192" rx="38" ry="17"/><ellipse cx="595" cy="184" rx="20" ry="15"/></g>
</g>

<g id="greenmtn" transform="translate(510 0) scale(0.10596)">
<defs><linearGradient id="gm1" x1="0" x2="1"><stop offset="0" stop-color="#4a9ae8"/><stop offset="1" stop-color="#66baf4"/></linearGradient>
<linearGradient id="gm2" x1="0" x2="1"><stop offset="0" stop-color="#5cbaf3"/><stop offset="1" stop-color="#80d8f8"/></linearGradient>
<radialGradient id="gsun" cx=".4" cy=".35" r=".7"><stop offset="0" stop-color="#ffd84a"/><stop offset="1" stop-color="#f5a623"/></radialGradient></defs>
<!-- base -->
<ellipse cx="385" cy="568" rx="305" ry="56" fill="#48c23c"/>
<ellipse cx="385" cy="552" rx="305" ry="56" fill="#6fe55a"/>
<!-- left mountain -->
<path fill="url(#gm1)" d="M155 510C190 430 230 240 278 228C325 236 350 330 372 400L400 530Z"/>
<path fill="#6be457" d="M228 305C245 255 260 230 278 228C300 232 322 270 336 318C325 335 310 315 295 328C280 338 262 315 248 325C238 330 230 318 228 305Z"/>
<!-- right mountain -->
<path fill="url(#gm2)" d="M345 545C370 430 410 190 455 178C505 190 540 330 575 440L612 535Z"/>
<path fill="#6be457" d="M390 290C410 220 435 180 455 178C480 184 510 240 528 300C515 312 500 290 485 300C470 312 455 285 440 300C425 315 405 305 390 290Z"/>
<!-- trees -->
<path fill="#a8552e" d="M216 500h12v30h-12zM344 510h12v32h-12zM605 470h10v30h-10z"/>
<path fill="#72ea6c" d="M222 392L252 440L240 440L262 480L248 480L266 512L178 512L196 480L182 480L204 440L192 440Z"/>
<path fill="#72ea6c" d="M350 403L378 448L366 448L386 486L374 486L390 520L310 520L326 486L314 486L334 448L322 448Z"/>
<path fill="#72ea6c" d="M610 375L634 415L624 415L640 448L630 448L644 480L576 480L590 448L580 448L596 415L586 415Z"/>
<!-- sun -->
<g stroke="#f5b23a" stroke-width="7" stroke-linecap="round"><path d="M360 70v12M360 168v12M305 125h12M403 125h12M322 86l8 8M390 156l8 8M398 86l-8 8M330 156l-8 8"/></g>
<circle cx="360" cy="125" r="32" fill="url(#gsun)"/>
<!-- clouds -->
<g fill="#fff"><ellipse cx="250" cy="160" rx="29" ry="13"/><ellipse cx="250" cy="153" rx="16" ry="12"/>
<ellipse cx="480" cy="127" rx="29" ry="13"/><ellipse cx="480" cy="120" rx="16" ry="12"/>
<ellipse cx="165" cy="282" rx="43" ry="18"/><ellipse cx="165" cy="272" rx="24" ry="17"/>
<ellipse cx="585" cy="216" rx="39" ry="17"/><ellipse cx="585" cy="207" rx="22" ry="16"/></g>
</g>

<g id="car" transform="translate(648 105) scale(0.12853)">
<defs><linearGradient id="carb" x1="0" x2="1" y1="0" y2="1"><stop offset="0" stop-color="#4a8fd8"/><stop offset="1" stop-color="#3470b6"/></linearGradient></defs>
<!-- body -->
<path fill="url(#carb)" d="M232 372L244 125Q248 96 290 82L400 56Q500 44 592 70Q636 86 642 132L662 345L700 352Q722 360 720 402L716 442L545 532L520 612L300 592L58 522Q42 470 58 420Q100 396 232 372Z"/>
<path fill="#4f93dc" d="M290 82L400 56Q500 44 592 70Q630 84 640 120Q600 100 540 130L270 112Z"/>
<path fill="#2f68ac" d="M540 130Q600 100 640 120L662 345L700 352Q722 360 720 402L716 442L545 532L530 420Z" opacity=".55"/>
<!-- hood highlight -->
<path fill="#4d92dc" d="M62 418Q100 396 236 372L500 420L340 470Q200 440 62 418Z"/>
<path fill="#3a78be" d="M340 470L500 420L498 560L330 595Z" opacity=".6"/>
<path d="M330 470L250 410" stroke="#3872b6" stroke-width="5" fill="none" opacity=".7"/>
<!-- windshield -->
<path fill="#08080b" d="M262 128Q264 118 280 120L500 160Q516 164 514 182L500 400Q498 414 480 410L250 356Q236 352 238 338Z"/>
<path fill="#cfc5a2" d="M272 122L440 148L430 156L270 134Z"/>
<path fill="#9d8f86" d="M506 175L514 182L500 400L490 404Z"/>
<path fill="#1c2230" d="M250 356L480 410L485 385Q400 360 330 372Q290 368 252 340Z" opacity=".8"/>
<!-- side window -->
<path fill="#0a0a0d" d="M568 195Q570 182 584 176L622 160Q634 156 635 170L642 335Q642 348 630 354L560 396Q546 402 548 388Z"/>
<!-- bumper -->
<path fill="#85858a" d="M50 515L300 578L482 556L484 598L300 632L55 560Q46 540 50 515Z"/>
<path fill="#6c6c72" d="M55 545L300 612L484 585L484 598L300 632L55 560Z"/>
<!-- grille -->
<path fill="#b9c2cc" d="M158 470Q160 450 185 455L285 478Q305 484 304 505L300 575L160 545Z"/>
<path fill="#1a1a1e" d="M168 472L294 498L292 566L168 538Z"/>
<g stroke="#cfd3d8" stroke-width="9"><path d="M192 476v66M218 481v68M244 487v68M270 492v68"/></g>
<!-- plate -->
<path fill="#e8e1c4" d="M156 534L292 558L290 612L154 584Z"/>
<!-- headlights -->
<ellipse cx="98" cy="463" rx="31" ry="36" fill="#9fb6cf"/>
<ellipse cx="98" cy="463" rx="25" ry="30" fill="#ecdccd"/>
<ellipse cx="380" cy="516" rx="34" ry="40" fill="#9fb6cf"/>
<ellipse cx="380" cy="516" rx="27" ry="33" fill="#ecdccd"/>
<!-- rear wheel -->
<ellipse cx="690" cy="472" rx="27" ry="46" fill="#3c3440"/>
<ellipse cx="694" cy="474" rx="14" ry="26" fill="#5f5266"/>
<!-- running board -->
<path fill="#7a7280" d="M560 545L668 478L672 500L575 572Z"/>
<!-- front wheel -->
<ellipse cx="522" cy="560" rx="42" ry="62" fill="#3a3340"/>
<ellipse cx="530" cy="562" rx="24" ry="40" fill="#62546a"/>
<ellipse cx="533" cy="563" rx="10" ry="18" fill="#4a3f52"/>
</g>

<g id="yading" transform="translate(60 428) scale(0.13928)">
<defs>
<linearGradient id="ym1" x1="0" x2="1"><stop offset="0" stop-color="#78caf3"/><stop offset="1" stop-color="#a4e1f9"/></linearGradient>
<linearGradient id="ym2" x1="0" x2="1"><stop offset="0" stop-color="#4d9cea"/><stop offset="1" stop-color="#6ab4f3"/></linearGradient>
<radialGradient id="ysun" cx=".4" cy=".35" r=".7"><stop offset="0" stop-color="#ffd95a"/><stop offset="1" stop-color="#f4ad2c"/></radialGradient>
</defs>
<!-- clouds (behind) -->
<g fill="#fff"><ellipse cx="235" cy="150" rx="44" ry="17"/><ellipse cx="238" cy="138" rx="25" ry="17"/>
<ellipse cx="487" cy="150" rx="44" ry="17"/><ellipse cx="487" cy="138" rx="25" ry="17"/>
<ellipse cx="172" cy="234" rx="56" ry="22"/><ellipse cx="180" cy="218" rx="32" ry="22"/>
<ellipse cx="555" cy="234" rx="52" ry="22"/><ellipse cx="548" cy="218" rx="30" ry="22"/></g>
<!-- side plate -->
<path fill="#62b8ef" d="M72 500Q70 480 110 472L610 472Q648 480 646 500Q640 530 590 545L130 545Q78 530 72 500Z"/>
<path fill="#8bd4f5" d="M72 492Q72 474 110 466L610 466Q646 474 646 492Q640 520 590 532L130 532Q78 520 72 492Z"/>
<!-- middle mountain -->
<path fill="url(#ym2)" d="M285 470C305 380 325 170 366 158C408 170 425 380 445 470Z"/>
<path fill="#85e674" d="M316 240C328 190 346 162 366 158C388 164 408 198 420 244C409 256 397 240 385 248C372 256 362 240 350 248C340 254 324 250 316 240Z"/>
<!-- left mountain -->
<path fill="url(#ym1)" d="M160 480C185 400 205 215 258 203C312 215 335 380 358 480Z"/>
<path fill="#8be87a" d="M200 285C214 232 236 206 258 203C282 208 304 240 315 288C304 300 288 284 274 292C258 302 246 284 232 292C220 300 206 296 200 285Z"/>
<!-- right mountain -->
<path fill="url(#ym1)" d="M362 480C388 400 415 215 470 203C524 215 540 380 562 480Z"/>
<path fill="#8be87a" d="M412 285C426 232 448 206 470 203C494 208 516 240 527 288C516 300 500 284 486 292C470 302 458 284 444 292C432 300 418 296 412 285Z"/>
<g fill="#a9f192" opacity=".75"><ellipse cx="245" cy="245" rx="22" ry="30"/><ellipse cx="456" cy="245" rx="22" ry="30"/><ellipse cx="356" cy="200" rx="18" ry="26"/></g>
<!-- pond -->
<ellipse cx="360" cy="548" rx="225" ry="68" fill="#6cbff2"/>
<ellipse cx="360" cy="520" rx="225" ry="58" fill="#93d9f6"/>
<ellipse cx="360" cy="512" rx="190" ry="42" fill="#aae5f9"/>
<ellipse cx="360" cy="502" rx="140" ry="26" fill="#c4f0fb"/>
<!-- rocks -->
<path fill="#858c93" d="M105 482L150 440L168 428L200 470L205 486L150 492Z"/>
<path fill="#a3a9af" d="M105 482L150 440L160 470L150 492Z"/>
<path fill="#858c93" d="M515 484L545 448L560 438L590 462L615 484L560 492Z"/>
<path fill="#a3a9af" d="M515 484L545 448L556 470L560 492Z"/>
<!-- trees -->
<path fill="#a06a3c" d="M126 420h9v40h-9zM588 420h9v40h-9z"/>
<circle cx="130" cy="347" r="30" fill="#8df088"/><circle cx="130" cy="398" r="40" fill="#78e574"/>
<circle cx="592" cy="347" r="30" fill="#8df088"/><circle cx="592" cy="398" r="40" fill="#78e574"/>
<!-- bushes -->
<ellipse cx="95" cy="572" rx="38" ry="10" fill="#e9a449"/>
<path fill="#6fe16a" d="M66 565C62 540 72 525 80 540C82 510 98 495 104 520C110 510 124 520 122 565Z"/>
<ellipse cx="625" cy="574" rx="38" ry="10" fill="#e9a449"/>
<path fill="#6fe16a" d="M598 567C594 542 604 527 612 542C614 512 630 497 636 522C642 512 656 522 654 567Z"/>
<!-- sun -->
<g stroke="#f3b33a" stroke-width="5" stroke-linecap="round" opacity=".8"><path d="M362 33v12M362 125v12M310 85h12M402 85h12M326 49l8 8M390 113l8 8M398 49l-8 8M334 113l-8 8"/></g>
<circle cx="362" cy="85" r="30" fill="url(#ysun)"/>
</g>

<g id="pills">
<rect x="50.0" y="150.0" width="136.0" height="33.0" rx="16.5" fill="#e8525d"/><text x="74.40" y="174.35" font-size="21.8" font-weight="bold" fill="#fff">墨石公园</text>
<rect x="469.6" y="117.7" width="136.6" height="33.0" rx="16.5" fill="#e8525d"/><text x="494.30" y="142.05" font-size="21.8" font-weight="bold" fill="#fff">四姑娘山</text>
<rect x="259.8" y="330.3" width="108.8" height="32.7" rx="16.3" fill="#e8525d"/><text x="281.50" y="355.20" font-size="21.8" font-weight="bold" fill="#fff">鱼子西</text>
</g>
<g id="labels">
<text x="17.50" y="255.00" font-size="17" font-weight="bold" fill="#7a7a7a">理塘</text>
<text x="29.00" y="363.00" font-size="17" font-weight="bold" fill="#7a7a7a">稻城</text>
<text x="201.50" y="122.50" font-size="17" font-weight="bold" fill="#7a7a7a">八美</text>
<text x="344.50" y="141.50" font-size="17" font-weight="bold" fill="#7a7a7a">丹巴</text>
<text x="779.00" y="214.00" font-size="17" font-weight="bold" fill="#7a7a7a">成都</text>
<text x="409.00" y="430.00" font-size="17" font-weight="bold" fill="#7a7a7a">康定</text>
<text x="172.20" y="328.00" font-size="17" font-weight="bold" fill="#7a7a7a">新都桥</text>
<text x="58.75" y="541.50" font-size="20.5" font-weight="bold" fill="#676767">亚丁风景区</text>
<text x="465.35" y="30.00" font-size="17.1" fill="#616161">双桥沟</text>
<text x="593.70" y="61.50" font-size="17.1" fill="#616161">猫鼻梁观景台</text>
<text x="125.40" y="241.50" font-size="17.1" fill="#616161">天路</text>
<text x="116.85" y="262.00" font-size="17.1" fill="#616161">十八弯</text>
<text x="233.30" y="244.00" font-size="17.1" fill="#616161">塔公草图</text>
<text x="394.85" y="271.00" font-size="17.1" fill="#616161">红海子</text>
<text x="468.30" y="329.50" font-size="17.1" fill="#616161">沿途秘境</text>
<text x="571.40" y="354.00" font-size="17.1" fill="#616161">天全</text>
<text x="562.85" y="375.00" font-size="17.1" fill="#616161">服务区</text>
</g>
<g id="bar">
<rect x="431" y="626" width="388" height="34.5" rx="17.2" fill="url(#barg)"/>
<text x="456.80" y="652.60" font-size="26.5" letter-spacing="15" fill="#22363b">详细清晰 明白出行</text>
</g>
</svg>
<div class="t en e1">Tibetan</div><div class="t en e2">Autonomous</div><div class="t en e3">Prefecture</div><div class="t en e4">of Garz<i>&#234;</i></div>
<div class="t sc">SCENIC SPOT OF<br><b>DAOCHENG YADING</b></div>
<div class="t n434">434</div>
</body></html>
